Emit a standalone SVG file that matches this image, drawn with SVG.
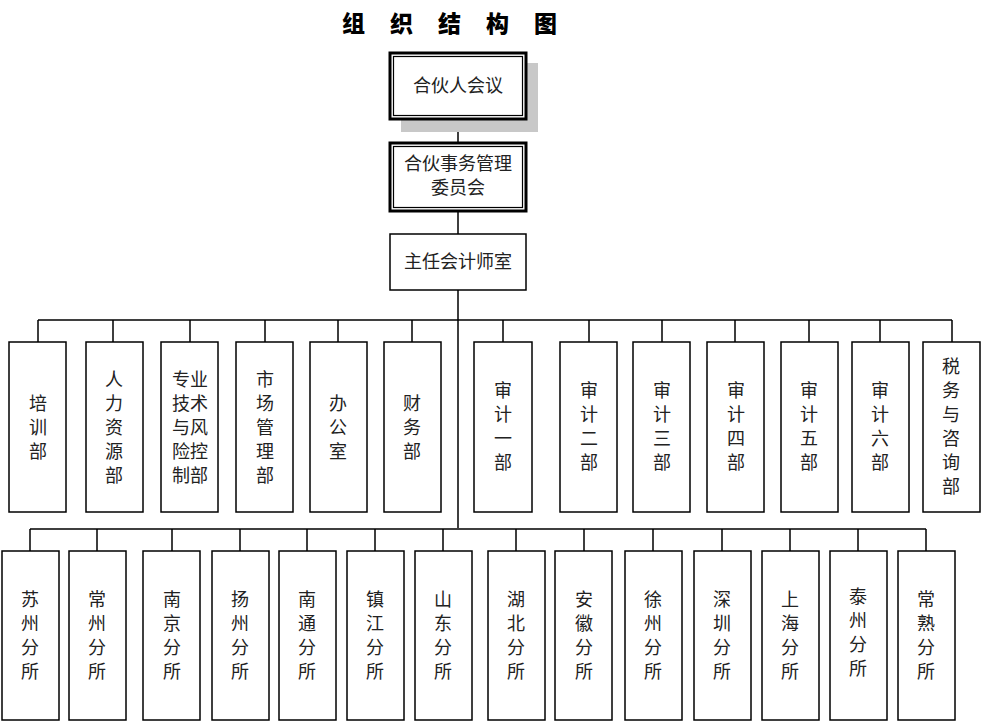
<svg xmlns="http://www.w3.org/2000/svg" width="981" height="723" viewBox="0 0 981 723">
<style>
text{font-family:"Noto Sans CJK SC","Noto Sans CJK JP",sans-serif;font-size:18px;fill:#222;text-anchor:middle}
.box{fill:#fff;stroke:#000;stroke-width:1.5}
.ln{stroke:#000;stroke-width:1.5;fill:none}
.title{font-size:23px;font-weight:900;fill:#000;letter-spacing:25px;text-anchor:start}
</style>
<rect width="981" height="723" fill="#fff"/>
<text class="title" x="342" y="32">组织结构图</text>
<g id="connectors">
<path class="ln" d="M458 119V143M458 211V234M458 290V528"/>
<path class="ln" d="M38 320H952M38 320V342M113 320V342M190 320V342M265 320V342M338 320V342M412 320V342M503 320V342M589 320V342M662 320V342M735 320V342M809 320V342M880 320V342M952 320V342"/>
<path class="ln" d="M30 529H926M30 529V551M97 529V551M172 529V551M240 529V551M307 529V551M375 529V551M443 529V551M516 529V551M584 529V551M653 529V551M722 529V551M790 529V551M858 529V551M926 529V551"/>
</g>
<g id="n-hhr">
<rect x="401" y="63" width="137" height="69" fill="#c8c8c8"/>
<rect x="390" y="53" width="136" height="66" fill="#fff" stroke="#000" stroke-width="3"/>
<rect x="393.5" y="56.5" width="129" height="59" fill="none" stroke="#000" stroke-width="1.2"/>
<text x="458" y="92">合伙人会议</text>
</g>
<g id="n-sw">
<rect x="390" y="143" width="136" height="68" fill="#fff" stroke="#000" stroke-width="3"/>
<rect x="393.5" y="146.5" width="129" height="61" fill="none" stroke="#000" stroke-width="1.2"/>
<text x="458" y="170">合伙事务管理</text>
<text x="458" y="194">委员会</text>
</g>
<g id="n-zr">
<rect class="box" x="390" y="234" width="136" height="56"/>
<text x="458" y="268">主任会计师室</text>
</g>
<g id="row1">
<g id="d1"><rect class="box" x="9" y="342" width="57" height="170"/><text x="38" y="410">培</text><text x="38" y="434">训</text><text x="38" y="458">部</text></g>
<g id="d2"><rect class="box" x="86" y="342" width="57" height="170"/><text x="114" y="386">人</text><text x="114" y="410">力</text><text x="114" y="434">资</text><text x="114" y="458">源</text><text x="114" y="482">部</text></g>
<g id="d3"><rect class="box" x="161" y="342" width="57" height="170"/><text x="190" y="386">专业</text><text x="190" y="410">技术</text><text x="190" y="434">与风</text><text x="190" y="458">险控</text><text x="190" y="482">制部</text></g>
<g id="d4"><rect class="box" x="236" y="342" width="57" height="170"/><text x="265" y="386">市</text><text x="265" y="410">场</text><text x="265" y="434">管</text><text x="265" y="458">理</text><text x="265" y="482">部</text></g>
<g id="d5"><rect class="box" x="310" y="342" width="57" height="170"/><text x="338" y="410">办</text><text x="338" y="434">公</text><text x="338" y="458">室</text></g>
<g id="d6"><rect class="box" x="384" y="342" width="57" height="170"/><text x="412" y="410">财</text><text x="412" y="434">务</text><text x="412" y="458">部</text></g>
<g id="d7"><rect class="box" x="474" y="342" width="58" height="170"/><text x="503" y="397">审</text><text x="503" y="421">计</text><text x="503" y="445">一</text><text x="503" y="469">部</text></g>
<g id="d8"><rect class="box" x="560" y="342" width="57" height="170"/><text x="589" y="397">审</text><text x="589" y="421">计</text><text x="589" y="445">二</text><text x="589" y="469">部</text></g>
<g id="d9"><rect class="box" x="633" y="342" width="57" height="170"/><text x="662" y="397">审</text><text x="662" y="421">计</text><text x="662" y="445">三</text><text x="662" y="469">部</text></g>
<g id="d10"><rect class="box" x="707" y="342" width="57" height="170"/><text x="736" y="397">审</text><text x="736" y="421">计</text><text x="736" y="445">四</text><text x="736" y="469">部</text></g>
<g id="d11"><rect class="box" x="781" y="342" width="57" height="170"/><text x="809" y="397">审</text><text x="809" y="421">计</text><text x="809" y="445">五</text><text x="809" y="469">部</text></g>
<g id="d12"><rect class="box" x="852" y="342" width="57" height="170"/><text x="880" y="397">审</text><text x="880" y="421">计</text><text x="880" y="445">六</text><text x="880" y="469">部</text></g>
<g id="d13"><rect class="box" x="923" y="342" width="57" height="170"/><text x="951" y="373">税</text><text x="951" y="397">务</text><text x="951" y="421">与</text><text x="951" y="445">咨</text><text x="951" y="469">询</text><text x="951" y="493">部</text></g>
</g>
<g id="row2">
<g id="b1"><rect class="box" x="2" y="551" width="57" height="169"/><text x="30" y="606">苏</text><text x="30" y="630">州</text><text x="30" y="654">分</text><text x="30" y="678">所</text></g>
<g id="b2"><rect class="box" x="69" y="551" width="57" height="169"/><text x="97" y="606">常</text><text x="97" y="630">州</text><text x="97" y="654">分</text><text x="97" y="678">所</text></g>
<g id="b3"><rect class="box" x="143" y="551" width="57" height="169"/><text x="172" y="606">南</text><text x="172" y="630">京</text><text x="172" y="654">分</text><text x="172" y="678">所</text></g>
<g id="b4"><rect class="box" x="212" y="551" width="57" height="169"/><text x="240" y="606">扬</text><text x="240" y="630">州</text><text x="240" y="654">分</text><text x="240" y="678">所</text></g>
<g id="b5"><rect class="box" x="279" y="551" width="57" height="169"/><text x="307" y="606">南</text><text x="307" y="630">通</text><text x="307" y="654">分</text><text x="307" y="678">所</text></g>
<g id="b6"><rect class="box" x="347" y="551" width="57" height="169"/><text x="375" y="606">镇</text><text x="375" y="630">江</text><text x="375" y="654">分</text><text x="375" y="678">所</text></g>
<g id="b7"><rect class="box" x="415" y="551" width="57" height="169"/><text x="443" y="606">山</text><text x="443" y="630">东</text><text x="443" y="654">分</text><text x="443" y="678">所</text></g>
<g id="b8"><rect class="box" x="488" y="551" width="57" height="169"/><text x="516" y="606">湖</text><text x="516" y="630">北</text><text x="516" y="654">分</text><text x="516" y="678">所</text></g>
<g id="b9"><rect class="box" x="555" y="551" width="57" height="169"/><text x="584" y="606">安</text><text x="584" y="630">徽</text><text x="584" y="654">分</text><text x="584" y="678">所</text></g>
<g id="b10"><rect class="box" x="625" y="551" width="57" height="169"/><text x="653" y="606">徐</text><text x="653" y="630">州</text><text x="653" y="654">分</text><text x="653" y="678">所</text></g>
<g id="b11"><rect class="box" x="694" y="551" width="57" height="169"/><text x="722" y="606">深</text><text x="722" y="630">圳</text><text x="722" y="654">分</text><text x="722" y="678">所</text></g>
<g id="b12"><rect class="box" x="762" y="551" width="57" height="169"/><text x="790" y="606">上</text><text x="790" y="630">海</text><text x="790" y="654">分</text><text x="790" y="678">所</text></g>
<g id="b13"><rect class="box" x="830" y="551" width="57" height="169"/><text x="858" y="603">泰</text><text x="858" y="627">州</text><text x="858" y="651">分</text><text x="858" y="675">所</text></g>
<g id="b14"><rect class="box" x="898" y="551" width="57" height="169"/><text x="926" y="606">常</text><text x="926" y="630">熟</text><text x="926" y="654">分</text><text x="926" y="678">所</text></g>
</g>
</svg>
